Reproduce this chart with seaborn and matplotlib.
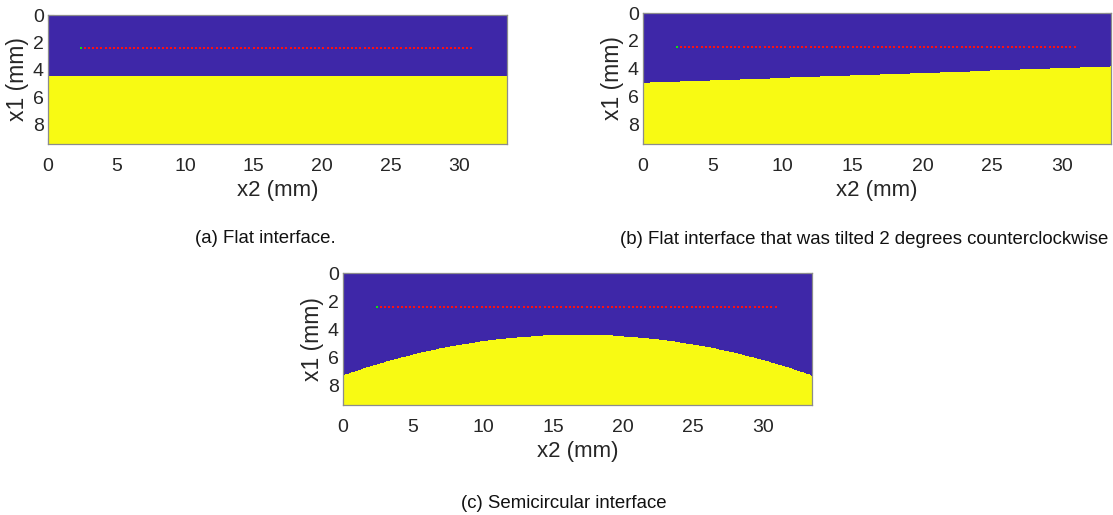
import numpy as np
import pandas as pd
import matplotlib
matplotlib.use("Agg")
import matplotlib.pyplot as plt
from matplotlib.colors import ListedColormap
import seaborn as sns

sns.set_theme(style="white")
plt.rcParams["font.family"] = ["Liberation Sans", "DejaVu Sans"]

# Domain (mm) and grid spacing
x2_max = 33.5
x1_max = 9.4
dx = 0.025

# Interface descriptions
flat_depth = 4.45            # (a) flat interface depth
tilt_mid_depth = 4.42        # (b) depth at the centre of the domain
tilt_deg = 2.0               # (b) counter-clockwise tilt
circ_apex_depth = 4.4        # (c) shallowest point of the arc
circ_radius = 49.8           # (c) radius of curvature
circ_center_x2 = 16.75       # (c) lateral position of the apex

# Array element positions
elem_depth = 2.43
elem_first = 2.4
elem_pitch = 0.3
elem_count = 96

x_ticks = [0, 5, 10, 15, 20, 25, 30]
y_ticks = [0, 2, 4, 6, 8]

captions = ["(a) Flat interface.",
            "(b) Flat interface that was tilted 2 degrees counterclockwise",
            "(c) Semicircular interface"]

blue = "#3E27A8"
yellow = "#F8FA13"
frame = "#8C8C8C"
ink = "#262626"

nx = int(round(x2_max / dx))
ny = int(round(x1_max / dx))
x2c = (np.arange(nx) + 0.5) * dx
x1c = (np.arange(ny) + 0.5) * dx
X2, X1 = np.meshgrid(x2c, x1c)

boundaries = [
    np.full_like(X2, flat_depth),
    tilt_mid_depth - np.tan(np.radians(tilt_deg)) * (X2 - x2_max / 2),
    circ_apex_depth + circ_radius - np.sqrt(circ_radius**2 - (X2 - circ_center_x2)**2),
]
fields = [(X1 > b).astype(float) for b in boundaries]

elem_x2 = elem_first + elem_pitch * np.arange(elem_count)
elements = pd.DataFrame({"x2": elem_x2 / dx,
                         "x1": np.full(elem_count, elem_depth) / dx})

W, H = 1113, 515
fig = plt.figure(figsize=(W / 100, H / 100), dpi=100)
# axes boxes in pixels: left, top, right, bottom
boxes = [(48, 15, 507, 144), (643, 13, 1111, 144), (343, 273, 812, 405)]
cap_pos = [(265, 239), (864, 240), (564, 503)]

cmap = ListedColormap([blue, yellow])
for k, (field, box) in enumerate(zip(fields, boxes)):
    l, t, r, b = box
    ax = fig.add_axes([l / W, 1 - b / H, (r - l) / W, (b - t) / H])
    sns.heatmap(field, ax=ax, cmap=cmap, vmin=0, vmax=1, cbar=False,
                xticklabels=False, yticklabels=False, rasterized=True)
    sns.scatterplot(data=elements, x="x2", y="x1", ax=ax, color="#FF1010",
                    marker="s", s=2.2, linewidth=0, legend=False)
    sns.scatterplot(data=elements.iloc[:1], x="x2", y="x1", ax=ax,
                    color="#10E010", marker="s", s=2.6, linewidth=0,
                    legend=False)
    ax.set_xlim(0, nx)
    ax.set_ylim(ny, 0)
    ax.set_xticks(np.array(x_ticks) / dx)
    ax.set_xticklabels([str(v) for v in x_ticks])
    ax.set_yticks(np.array(y_ticks) / dx)
    ax.set_yticklabels([str(v) for v in y_ticks], rotation=0)
    ax.tick_params(axis="both", direction="in", length=4, width=0.8,
                   color=frame, labelcolor=ink, labelsize=14,
                   top=True, right=True, bottom=True, left=True)
    ax.tick_params(axis="x", pad=10)
    ax.tick_params(axis="y", pad=3)
    for sp in ax.spines.values():
        sp.set_visible(True)
        sp.set_color(frame)
        sp.set_linewidth(0.9)
    ax.set_xlabel("x2 (mm)", fontsize=16, color=ink, labelpad=4)
    ax.set_ylabel("x1 (mm)", fontsize=16.5, color=ink, labelpad=3)
    ax.xaxis.label.set_visible(True)
    ax.yaxis.label.set_visible(True)
    cx, cy = cap_pos[k]
    fig.text(cx / W, 1 - cy / H, captions[k], ha="center", va="center",
             fontsize=13.4, color="#111111")

fig.savefig("out.png", dpi=100)
